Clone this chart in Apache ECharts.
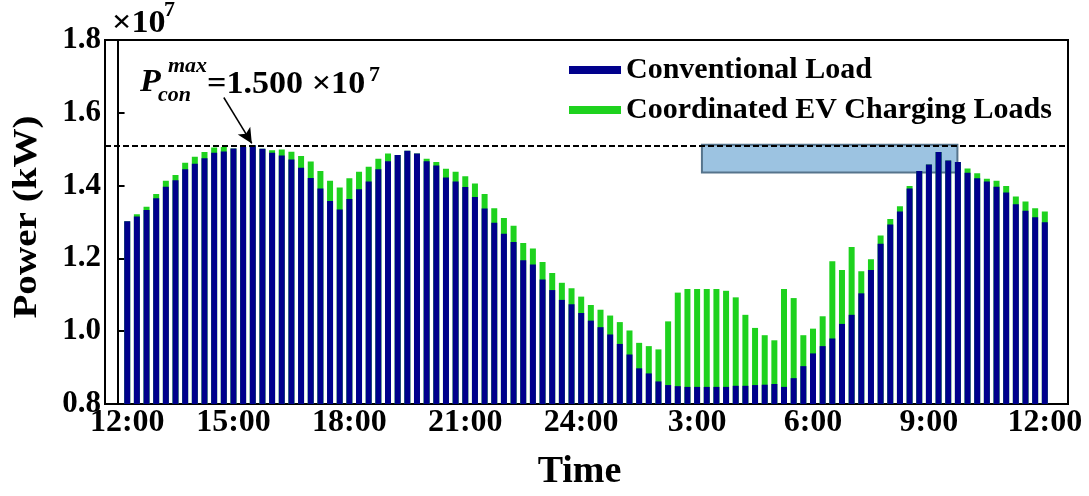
<!DOCTYPE html>
<html>
<head>
<meta charset="utf-8">
<script src="https://cdn.jsdelivr.net/npm/echarts@6/dist/echarts.min.js"></script>
<style>
  html, body { margin: 0; padding: 0; background: #ffffff; }
  #chart { width: 1089px; height: 496px; }
</style>
</head>
<body>
<div id="chart"></div>
<script>
// Conventional load (x10^7 kW), 96 quarter-hour slots from 12:00 to 12:00
const conventionalLoad = [
  1.302, 1.315, 1.333, 1.365, 1.397, 1.415, 1.445, 1.460, 1.475, 1.490, 1.494, 1.502,
  1.506, 1.511, 1.501, 1.490, 1.483, 1.472, 1.449, 1.421, 1.392, 1.358, 1.334, 1.363,
  1.390, 1.411, 1.445, 1.467, 1.484, 1.496, 1.488, 1.467, 1.455, 1.422, 1.411, 1.396,
  1.369, 1.337, 1.298, 1.268, 1.245, 1.195, 1.183, 1.142, 1.113, 1.086, 1.074, 1.050,
  1.029, 1.011, 0.991, 0.965, 0.936, 0.898, 0.884, 0.862, 0.852, 0.849, 0.847, 0.847,
  0.847, 0.847, 0.847, 0.850, 0.850, 0.852, 0.853, 0.855, 0.847, 0.871, 0.904, 0.939,
  0.959, 0.980, 1.020, 1.045, 1.104, 1.168, 1.240, 1.293, 1.329, 1.392, 1.440, 1.458,
  1.492, 1.469, 1.465, 1.435, 1.420, 1.411, 1.397, 1.381, 1.349, 1.331, 1.313, 1.299
];
// Coordinated EV charging load added on top of the conventional load (x10^7 kW)
const evChargingLoad = [
  0.000, 0.006, 0.009, 0.012, 0.016, 0.014, 0.018, 0.019, 0.017, 0.015, 0.012, 0.000,
  0.000, 0.000, 0.000, 0.007, 0.016, 0.021, 0.032, 0.045, 0.048, 0.055, 0.061, 0.057,
  0.048, 0.041, 0.029, 0.021, 0.000, 0.000, 0.000, 0.007, 0.010, 0.024, 0.027, 0.030,
  0.037, 0.040, 0.040, 0.043, 0.045, 0.047, 0.044, 0.048, 0.047, 0.047, 0.044, 0.045,
  0.043, 0.048, 0.052, 0.060, 0.066, 0.070, 0.075, 0.088, 0.175, 0.257, 0.269, 0.269,
  0.269, 0.269, 0.264, 0.243, 0.195, 0.157, 0.136, 0.120, 0.269, 0.220, 0.085, 0.068,
  0.082, 0.212, 0.148, 0.186, 0.061, 0.030, 0.023, 0.015, 0.014, 0.007, 0.000, 0.000,
  0.000, 0.000, 0.000, 0.012, 0.014, 0.008, 0.016, 0.018, 0.021, 0.025, 0.025, 0.030
];
const timeLabels = ['12:00', '15:00', '18:00', '21:00', '24:00', '3:00', '6:00', '9:00', '12:00'];
const yTicks = [0.8, 1.0, 1.2, 1.4, 1.6, 1.8];
const seriesNames = ['Conventional Load', 'Coordinated EV Charging Loads'];
const pConMax = 1.512; // drawn level of the dashed line

const slots = conventionalLoad.map((_, i) => i + 1);
const totalLoad = conventionalLoad.map((v, i) => +(v + evChargingLoad[i]).toFixed(3));
const labelSlots = timeLabels.map((_, k) => Math.max(1, k * 12));
const slotToLabel = {};
labelSlots.forEach((s, k) => { slotToLabel[s] = timeLabels[k]; });

const SERIF = '"Liberation Serif", "Times New Roman", serif';
const chart = echarts.init(document.getElementById('chart'), null, { renderer: 'canvas' });

function txt(x, y, text, font, extra) {
  return Object.assign({
    type: 'text', x: x, y: y, scaleX: 1.1,
    style: { text: text, font: font, fill: '#000', verticalAlign: 'middle' }
  }, extra || {});
}

chart.setOption({
  animation: false,
  backgroundColor: '#ffffff',
  grid: {
    left: 105, right: 21, top: 40, bottom: 88,
    show: true, borderColor: '#000', borderWidth: 2, backgroundColor: 'transparent'
  },
  legend: {
    orient: 'vertical',
    left: 564, top: 50,
    itemWidth: 52, itemHeight: 8, itemGap: 10,
    icon: 'rect',
    data: seriesNames,
    textStyle: { fontFamily: SERIF, fontWeight: 'bold', fontSize: 30, color: '#000' }
  },
  xAxis: {
    type: 'value',
    min: -1.3, max: 98.4,
    name: 'Time', nameLocation: 'middle', nameGap: 49,
    nameTextStyle: { fontFamily: SERIF, fontWeight: 'bold', fontSize: 38, color: '#000', padding: [0, 14, 0, 0] },
    axisLine: { show: true, lineStyle: { color: '#000', width: 2 } },
    axisTick: { show: false },
    splitLine: { show: false },
    axisLabel: {
      customValues: labelSlots,
      formatter: v => slotToLabel[v] || '',
      fontFamily: SERIF, fontWeight: 'bold', fontSize: 32, color: '#000', margin: 3
    }
  },
  yAxis: {
    type: 'value',
    min: yTicks[0], max: yTicks[yTicks.length - 1], interval: 0.2,
    axisLine: { show: true, lineStyle: { color: '#000', width: 2 } },
    axisTick: { show: true, inside: true, length: 7, lineStyle: { color: '#000', width: 2 } },
    splitLine: { show: false },
    axisLabel: {
      formatter: v => v.toFixed(1),
      fontFamily: SERIF, fontWeight: 'bold', fontSize: 31, color: '#000', margin: 4
    }
  },
  series: [
    {
      name: seriesNames[1],
      type: 'bar',
      barWidth: 6,
      barGap: '-100%',
      itemStyle: { color: '#1ed21e' },
      data: slots.map((s, i) => [s, totalLoad[i]]),
      markArea: {
        silent: true,
        itemStyle: { color: '#9cc3e1', borderColor: '#56748c', borderWidth: 2, opacity: 1 },
        data: [[{ coord: [60.5, pConMax] }, { coord: [86.95, 1.436] }]]
      },
      markLine: {
        silent: true,
        symbol: ['none', 'arrow'],
        symbolSize: [11, 15],
        label: { show: false },
        lineStyle: { color: '#000', type: 'solid', width: 1.5 },
        data: [[{ coord: [11.0, 1.642] }, { coord: [13.9, 1.516] }]]
      }
    },
    {
      name: seriesNames[0],
      type: 'bar',
      barWidth: 6,
      barGap: '-100%',
      itemStyle: { color: '#00008c' },
      data: slots.map((s, i) => [s, conventionalLoad[i]]),
      markLine: {
        silent: true,
        symbol: 'none',
        label: { show: false },
        lineStyle: { color: '#000', type: [6, 3], width: 2.2 },
        data: [{ yAxis: pConMax }]
      }
    }
  ],
  graphic: [
    { type: 'text', x: 27, y: 217, rotation: Math.PI / 2, scaleX: 1.15,
      style: { text: 'Power (kW)', font: 'bold 34px ' + SERIF, fill: '#000', align: 'center', verticalAlign: 'middle' } },
    txt(112, 24, '×10', 'bold 31px ' + SERIF),
    txt(164, 11, '7', 'bold 20px ' + SERIF),
    txt(140, 83, 'P', 'italic bold 31px ' + SERIF),
    txt(168, 67, 'max', 'italic bold 20px ' + SERIF),
    txt(158, 96, 'con', 'italic bold 20px ' + SERIF),
    txt(207, 85, '=1.500 ×10', 'bold 31px ' + SERIF),
    txt(369, 76, '7', 'bold 20px ' + SERIF)
  ]
});
</script>
</body>
</html>
